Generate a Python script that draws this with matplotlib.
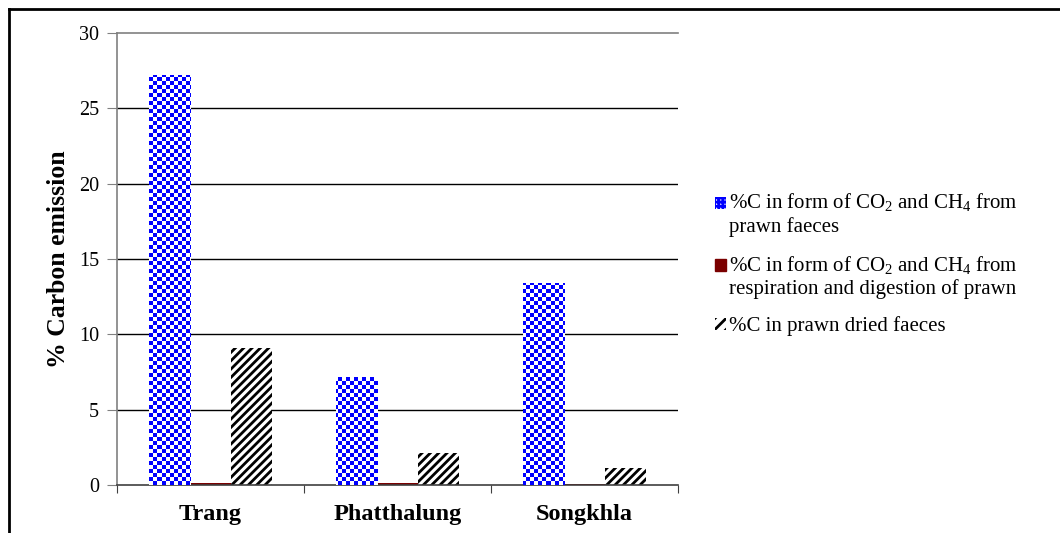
import numpy as np
import matplotlib.pyplot as plt
from matplotlib.colors import ListedColormap
from matplotlib.lines import Line2D
from matplotlib.patches import Patch, Rectangle
from matplotlib.legend_handler import HandlerPatch

plt.rcParams['font.family'] = ['Liberation Serif', 'DejaVu Serif']
plt.rcParams['mathtext.fontset'] = 'custom'
plt.rcParams['mathtext.rm'] = 'Liberation Serif'
plt.rcParams['hatch.linewidth'] = 2.0

# data
sites = ['Trang', 'Phatthalung', 'Songkhla']
faeces_gas = [27.2, 7.2, 13.4]
resp_gas = [0.12, 0.12, 0.05]
dried_faeces = [9.1, 2.1, 1.1]
series_labels = [
    '%C in form of CO$_2$ and CH$_4$ from\nprawn faeces',
    '%C in form of CO$_2$ and CH$_4$ from\nrespiration and digestion of prawn',
    '%C in prawn dried faeces',
]

fig = plt.figure(figsize=(10.6, 5.33), dpi=100)
ax = fig.add_axes([117 / 1060, 48 / 533, 561 / 1060, 452 / 533])

x = np.arange(len(sites))
w = 0.22

ax.set_xlim(-0.5, 2.5)
ax.set_ylim(0, 30)

# gridlines
for yv in range(5, 30, 5):
    ax.axhline(yv, color='black', lw=1.0, zorder=1)

bars1 = ax.bar(x - w, faeces_gas, w, facecolor='none', edgecolor='none', zorder=2)
ax.bar(x, resp_gas, w, color='#7a0000', zorder=2)
ax.bar(x + w, dried_faeces, w, facecolor='white', edgecolor='black',
       hatch='////', lw=0, zorder=2)

# checkerboard texture clipped to the blue bars
nx, ny = 140, 113
ii, jj = np.meshgrid(np.arange(nx), np.arange(ny))
checker = (ii + jj) % 2
cmap = ListedColormap(['white', '#0000ff'])
for b in bars1:
    im = ax.imshow(checker, cmap=cmap, extent=(-0.5, 2.5, 0, 30), aspect='auto',
                   interpolation='nearest', origin='lower', zorder=3)
    im.set_clip_path(b)

ax.set_xlim(-0.5, 2.5)
ax.set_ylim(0, 30)

# spines
ax.spines['right'].set_visible(False)
ax.spines['top'].set_color('#808080')
ax.spines['left'].set_color('#808080')
ax.spines['bottom'].set_color('#404040')
for s in ax.spines.values():
    s.set_linewidth(1.2)

ax.set_yticks(range(0, 31, 5))
ax.tick_params(axis='y', direction='out', length=7, color='#808080',
               labelsize=14.5, pad=6)
ax.set_xticks([-0.5, 0.5, 1.5, 2.5])
ax.set_xticklabels([])
ax.tick_params(axis='x', direction='out', length=6, color='#404040')
for xi, name in zip(x, sites):
    ax.text(xi, -1.95, name, ha='center', va='center', fontsize=17.5,
            fontweight='bold')

ax.set_ylabel('% Carbon emission', fontsize=18.5, fontweight='bold', labelpad=6)


# legend handles sit on the first text line, as in the original
def top_patch(legend, orig_handle, xdescent, ydescent, width, height, fontsize):
    return Rectangle((-xdescent, -ydescent + 8), width, height)


def plain_patch(legend, orig_handle, xdescent, ydescent, width, height, fontsize):
    return Rectangle((-xdescent, -ydescent), width, height)


handles = [
    Patch(facecolor='white', edgecolor='#0000ff', hatch='++++', lw=0),
    Patch(facecolor='#7a0000', edgecolor='#7a0000'),
    Patch(facecolor='white', edgecolor='black', hatch='///', lw=0),
]
hmap = {handles[0]: HandlerPatch(patch_func=top_patch),
        handles[1]: HandlerPatch(patch_func=top_patch),
        handles[2]: HandlerPatch(patch_func=plain_patch)}
fig.legend(handles, series_labels, loc='upper left', handler_map=hmap,
           bbox_to_anchor=(707 / 1060, 1 - 183 / 533), frameon=False,
           fontsize=15, handlelength=0.5, handleheight=0.5,
           handletextpad=0.15, labelspacing=0.82, borderaxespad=0)

# outer frame (left and top only)
fig.add_artist(Line2D([8.5 / 1060, 8.5 / 1060], [0, 1 - 8.5 / 533],
                      transform=fig.transFigure, color='black', lw=2))
fig.add_artist(Line2D([8.5 / 1060, 1], [1 - 8.5 / 533, 1 - 8.5 / 533],
                      transform=fig.transFigure, color='black', lw=2))

fig.savefig('out.png', dpi=100)
